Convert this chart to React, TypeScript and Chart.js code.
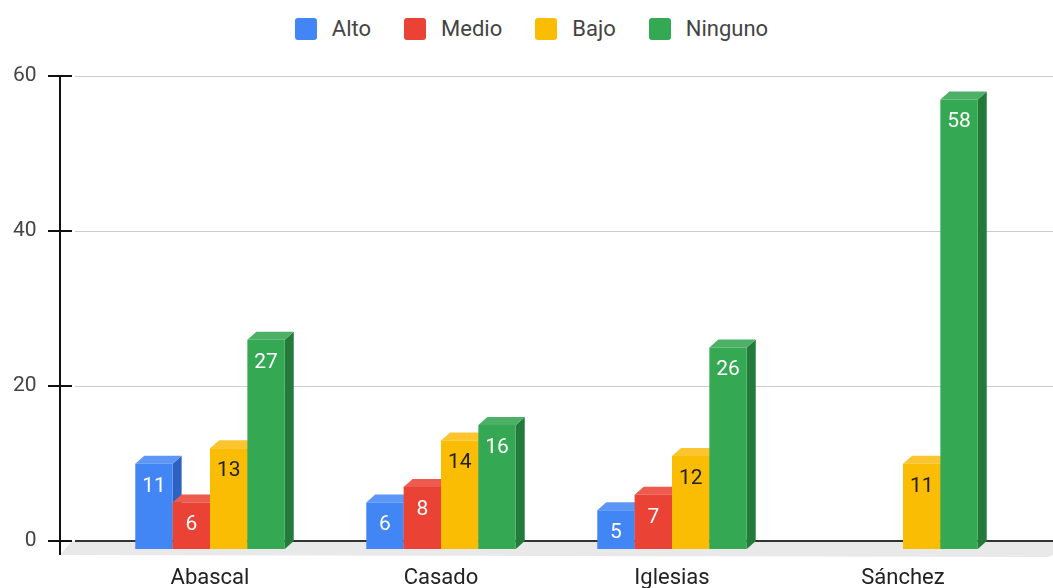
import React, { useEffect, useRef } from "react";
import { Chart, registerables } from "chart.js";

Chart.register(...registerables);

const categories = ["Abascal", "Casado", "Iglesias", "Sánchez"];
const seriesNames = ["Alto", "Medio", "Bajo", "Ninguno"];
const alto = [11, 6, 5, 0];
const medio = [6, 8, 7, 0];
const bajo = [13, 14, 12, 11];
const ninguno = [27, 16, 26, 58];
const yTicks = [0, 20, 40, 60];

const frontColors = ["#4285F4", "#EA4335", "#FBBC04", "#34A853"];
const topColors = ["#5C96F6", "#EE5A4E", "#FCC530", "#4CB166"];
const sideColors = ["#2F62C0", "#B9352A", "#C99603", "#237A3B"];
const labelColors = ["#ffffff", "#ffffff", "#222222", "#ffffff"];

const FONT = "Roboto, 'Noto Sans', Arial, sans-serif";
const DX = 9;
const DY = 8;

const axisPlugin = {
  id: "axis3d",
  beforeDatasetsDraw(chart: any) {
    const ctx = chart.ctx;
    const ys = chart.scales.y;
    const W = chart.width;
    ctx.save();
    const zeroY = ys.getPixelForValue(0);
    // floor
    ctx.fillStyle = "#e9e9e9";
    ctx.beginPath();
    ctx.moveTo(72, zeroY);
    ctx.lineTo(W, zeroY);
    ctx.lineTo(W, zeroY + 14);
    ctx.lineTo(W - 6, zeroY + 16);
    ctx.lineTo(60, zeroY + 14);
    ctx.closePath();
    ctx.fill();
    // gridlines
    yTicks.forEach((v) => {
      const y = Math.round(ys.getPixelForValue(v)) + 0.5;
      if (v !== 0) {
        ctx.strokeStyle = "#cccccc";
        ctx.lineWidth = 1;
        ctx.beginPath();
        ctx.moveTo(75, y);
        ctx.lineTo(W, y);
        ctx.stroke();
      }
      ctx.strokeStyle = "#111111";
      ctx.lineWidth = 2;
      ctx.beginPath();
      ctx.moveTo(48, Math.round(ys.getPixelForValue(v)));
      ctx.lineTo(72, Math.round(ys.getPixelForValue(v)));
      ctx.stroke();
    });
    // zero line
    ctx.strokeStyle = "#333333";
    ctx.lineWidth = 2;
    ctx.beginPath();
    ctx.moveTo(75, Math.round(zeroY));
    ctx.lineTo(W, Math.round(zeroY));
    ctx.stroke();
    // vertical axis
    ctx.strokeStyle = "#111111";
    ctx.lineWidth = 2;
    ctx.beginPath();
    ctx.moveTo(60, Math.round(ys.getPixelForValue(60)) - 1);
    ctx.lineTo(60, zeroY + 14);
    ctx.stroke();
    ctx.restore();
  },
  afterDatasetsDraw(chart: any) {
    const ctx = chart.ctx;
    ctx.save();
    const n = chart.data.labels.length;
    for (let i = 0; i < n; i++) {
      chart.data.datasets.forEach((ds: any, d: number) => {
        const v = ds.data[i];
        if (!v) return;
        const el = chart.getDatasetMeta(d).data[i];
        const p = el.getProps(["x", "y", "base", "width"], true);
        const l = p.x - p.width / 2;
        const r = p.x + p.width / 2;
        const t = p.y + DY;
        const b = p.base + DY;
        // side
        ctx.fillStyle = sideColors[d];
        ctx.beginPath();
        ctx.moveTo(r, t);
        ctx.lineTo(r + DX, p.y);
        ctx.lineTo(r + DX, p.base);
        ctx.lineTo(r, b);
        ctx.closePath();
        ctx.fill();
        // top
        ctx.fillStyle = topColors[d];
        ctx.beginPath();
        ctx.moveTo(l, t);
        ctx.lineTo(r, t);
        ctx.lineTo(r + DX, p.y);
        ctx.lineTo(l + DX, p.y);
        ctx.closePath();
        ctx.fill();
        // front
        ctx.fillStyle = frontColors[d];
        ctx.fillRect(l, t, r - l, b - t);
        // label
        ctx.fillStyle = labelColors[d];
        ctx.font = `21px ${FONT}`;
        ctx.textAlign = "center";
        ctx.textBaseline = "middle";
        ctx.fillText(String(v), p.x, t + 22.5);
      });
    }
    ctx.restore();
  },
};

export default function App() {
  const ref = useRef<HTMLCanvasElement | null>(null);
  useEffect(() => {
    if (!ref.current) return;
    const data = [alto, medio, bajo, ninguno];
    const chart = new Chart(ref.current, {
      type: "bar",
      data: {
        labels: categories,
        datasets: seriesNames.map((name, k) => ({
          label: name,
          data: data[k],
          backgroundColor: "rgba(0,0,0,0)",
          borderWidth: 0,
          categoryPercentage: 0.647,
          barPercentage: 1,
        })),
      },
      options: {
        responsive: false,
        animation: false,
        events: [],
        layout: { padding: { top: 76, right: 34.5, bottom: 0, left: 0 } },
        plugins: {
          legend: { display: false },
          tooltip: { enabled: false },
        },
        scales: {
          x: {
            afterFit: (scale: any) => {
              scale.height = 47;
              scale.paddingLeft = 0;
              scale.paddingRight = 0;
            },
            grid: { display: false, drawTicks: false },
            border: { display: false },
            ticks: {
              padding: 24,
              color: "#222222",
              font: { family: FONT, size: 22 },
              maxRotation: 0,
            },
          },
          y: {
            min: 0,
            max: 60,
            afterFit: (scale: any) => {
              scale.width = 94.5;
              scale.paddingTop = 0;
              scale.paddingBottom = 0;
            },
            grid: { display: false, drawTicks: false },
            border: { display: false },
            ticks: {
              stepSize: 20,
              padding: 58,
              color: "#444444",
              font: { family: FONT, size: 21 },
            },
          },
        },
      },
      plugins: [axisPlugin],
    });
    return () => chart.destroy();
  }, []);

  return (
    <div style={{ position: "fixed", left: 0, top: 0, width: 1053, height: 588, background: "#fff" }}>
      <div
        style={{
          position: "absolute",
          left: 0,
          top: 18,
          width: 1063,
          height: 22,
          display: "flex",
          justifyContent: "center",
          alignItems: "center",
          fontFamily: FONT,
          fontSize: 22,
          color: "#444444",
        }}
      >
        {seriesNames.map((name, k) => (
          <div key={name} style={{ display: "flex", alignItems: "center", marginLeft: k === 0 ? 0 : 33 }}>
            <div style={{ width: 22, height: 22, borderRadius: 3, background: frontColors[k] }} />
            <span style={{ marginLeft: 15, lineHeight: "22px" }}>{name}</span>
          </div>
        ))}
      </div>
      <canvas ref={ref} width={1053} height={588} style={{ position: "absolute", left: 0, top: 0, width: 1053, height: 588 }} />
    </div>
  );
}
